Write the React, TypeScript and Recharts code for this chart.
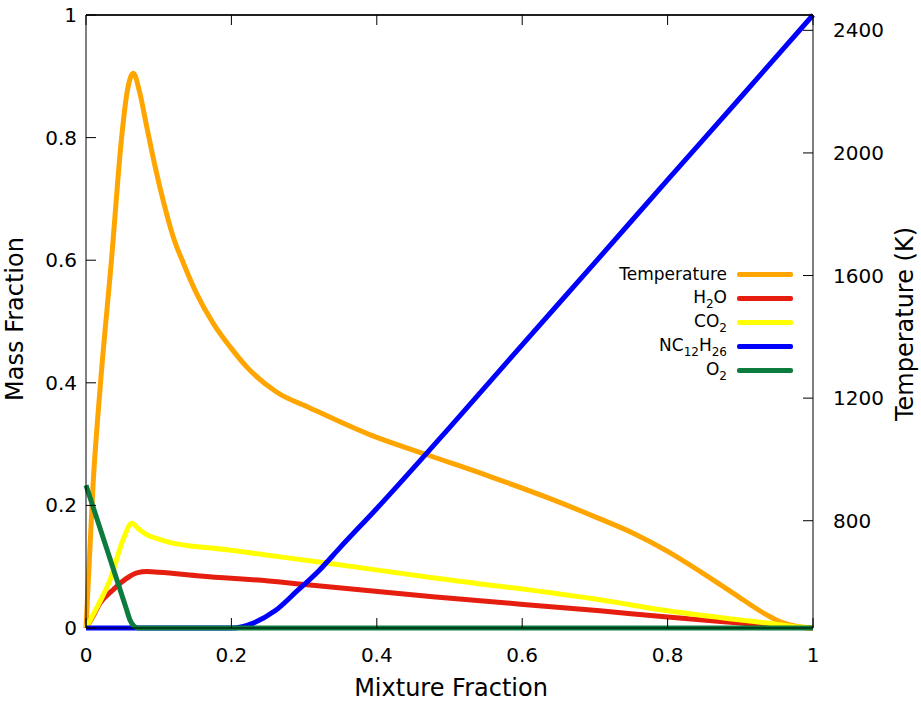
import React from "react";
import { LineChart, Line, XAxis, YAxis, CartesianGrid } from "recharts";

// mixture fraction samples and values for each series
const tempF = [0, 0.01, 0.02, 0.035, 0.049, 0.056, 0.061, 0.065, 0.074, 0.0835, 0.095, 0.106, 0.12, 0.134, 0.152, 0.175, 0.198, 0.221, 0.262, 0.308, 0.391, 0.473, 0.556, 0.634, 0.707, 0.752, 0.8, 0.845, 0.89, 0.937, 0.955, 0.98, 1];
const tempK = [450, 930, 1250, 1650, 2050, 2190, 2245, 2260, 2196, 2086, 1956, 1846, 1726, 1640, 1542, 1444, 1368, 1302, 1220, 1168, 1080, 1012, 944, 876, 806, 760, 700, 634, 564, 492, 470, 454, 450];

const h2oF = [0, 0.01, 0.019, 0.037, 0.05, 0.06, 0.07, 0.084, 0.1, 0.157, 0.267, 0.308, 0.477, 0.707, 0.8, 0.9, 0.95, 1];
const h2oY = [0, 0.02, 0.04, 0.062, 0.076, 0.084, 0.09, 0.092, 0.091, 0.085, 0.075, 0.07, 0.051, 0.028, 0.018, 0.008, 0.003, 0];

const co2F = [0, 0.02, 0.033, 0.051, 0.063, 0.072, 0.084, 0.1, 0.111, 0.157, 0.175, 0.267, 0.331, 0.477, 0.707, 0.8, 0.9, 0.937, 0.97, 1];
const co2Y = [0, 0.045, 0.078, 0.144, 0.171, 0.162, 0.152, 0.145, 0.141, 0.132, 0.13, 0.116, 0.106, 0.082, 0.046, 0.028, 0.013, 0.008, 0.003, 0];

const fuelF = [0, 0.2, 0.215, 0.23, 0.26, 0.29, 0.32, 0.35, 0.4, 0.5, 0.6, 0.7, 0.8, 0.9, 1];
const fuelY = [0, 0, 0.002, 0.008, 0.028, 0.06, 0.093, 0.132, 0.195, 0.327, 0.462, 0.596, 0.731, 0.865, 1];

const o2F = [0, 0.03, 0.055, 0.0605, 0.066, 0.072, 0.2, 0.6, 1];
const o2Y = [0.233, 0.124, 0.033, 0.013, 0.003, 0, 0, 0, 0];

const xTicks = [0, 0.2, 0.4, 0.6, 0.8, 1];
const massTicks = [0, 0.2, 0.4, 0.6, 0.8, 1];
const tempTicks = [800, 1200, 1600, 2000, 2400];

const zip = (fs: number[], vs: number[]) => fs.map((f, i) => ({ f, v: vs[i] }));

const FONT = "'DejaVu Sans', Verdana, sans-serif";
const W = 921;
const H = 702;
const LEFT_W = 86;
const RIGHT_W = 108;
const PLOT_TOP = 15; // chart top margin = top edge of the plot box
const PLOT_W = W - LEFT_W - RIGHT_W;

function Sub({ children }: { children: React.ReactNode }) {
    return <span style={{ fontSize: 12, position: "relative", top: 5 }}>{children}</span>;
}

const series = [
    { key: "temp", data: zip(tempF, tempK), axis: "T", color: "#FFA500", label: <>Temperature</> },
    { key: "h2o", data: zip(h2oF, h2oY), axis: "m", color: "#E51E10", label: <>H<Sub>2</Sub>O</> },
    { key: "co2", data: zip(co2F, co2Y), axis: "m", color: "#FFFF00", label: <>CO<Sub>2</Sub></> },
    { key: "fuel", data: zip(fuelF, fuelY), axis: "m", color: "#0000FF", label: <>NC<Sub>12</Sub>H<Sub>26</Sub></> },
    { key: "o2", data: zip(o2F, o2Y), axis: "m", color: "#0B7B3E", label: <>O<Sub>2</Sub></> },
];

const fmt = (v: number) => String(v);

// gnuplot style ticks: short marks pointing into the plot, mirrored on the top border
const BottomTick = (p: any) => (
    <g>
        <line x1={p.x} x2={p.x} y1={p.y} y2={p.y - 10} stroke="#000" />
        <line x1={p.x} x2={p.x} y1={PLOT_TOP} y2={PLOT_TOP + 10} stroke="#000" />
        <text x={p.x} y={p.y + 34} textAnchor="middle" fontFamily={FONT} fontSize={20} fill="#000">{fmt(p.payload.value)}</text>
    </g>
);
const LeftTick = (p: any) => (
    <g>
        <line x1={p.x} x2={p.x + 10} y1={p.y} y2={p.y} stroke="#000" />
        {/* the top value sits on the upper edge of the box: draw the border there */}
        {p.payload.value === massTicks[massTicks.length - 1] && (
            <line x1={p.x} x2={p.x + PLOT_W} y1={p.y} y2={p.y} stroke="#000" strokeWidth={1.3} />
        )}
        <text x={p.x - 9} y={p.y + 7} textAnchor="end" fontFamily={FONT} fontSize={20} fill="#000">{fmt(p.payload.value)}</text>
    </g>
);
const RightTick = (p: any) => (
    <g>
        <line x1={p.x} x2={p.x - 10} y1={p.y} y2={p.y} stroke="#000" />
        <text x={p.x + 20} y={p.y + 7} textAnchor="start" fontFamily={FONT} fontSize={20} fill="#000">{fmt(p.payload.value)}</text>
    </g>
);

const AxisTitle = ({ px, py, rot, text }: { px: number; py: number; rot?: number; text: string }) => (
    <text
        transform={`translate(${px},${py}) rotate(${rot || 0})`}
        textAnchor="middle"
        fontFamily={FONT}
        fontSize={24}
        fill="#000"
    >
        {text}
    </text>
);

export default function App() {
    return (
        <div style={{ position: "absolute", left: 0, top: 0, width: W, height: H, background: "#fff" }}>
            <LineChart width={W} height={H} margin={{ top: PLOT_TOP, right: 0, bottom: 0, left: 0 }}>
                <CartesianGrid xAxisId="b" yAxisId="m" vertical={false} horizontalValues={[1]} stroke="#000" strokeOpacity={1} />
                <XAxis
                    xAxisId="b"
                    dataKey="f"
                    type="number"
                    domain={[0, 1]}
                    ticks={xTicks}
                    interval={0}
                    height={74}
                    tickSize={0}
                    tickMargin={0}
                    tickLine={false}
                    axisLine={{ stroke: "#000" }}
                    tick={<BottomTick />}
                    label={<AxisTitle px={451} py={696} text="Mixture Fraction" />}
                />
                <YAxis
                    yAxisId="m"
                    type="number"
                    domain={[0, 1]}
                    ticks={massTicks}
                    interval={0}
                    width={LEFT_W}
                    tickSize={0}
                    tickMargin={0}
                    tickLine={false}
                    axisLine={{ stroke: "#000" }}
                    tick={<LeftTick />}
                    label={<AxisTitle px={23} py={319} rot={-90} text="Mass Fraction" />}
                />
                <YAxis
                    yAxisId="T"
                    orientation="right"
                    type="number"
                    domain={[450, 2450]}
                    ticks={tempTicks}
                    interval={0}
                    width={RIGHT_W}
                    tickSize={0}
                    tickMargin={0}
                    tickLine={false}
                    axisLine={{ stroke: "#000" }}
                    tick={<RightTick />}
                    label={<AxisTitle px={913} py={324} rot={-90} text="Temperature (K)" />}
                />
                {series.map((s) => (
                    <Line
                        key={s.key}
                        data={s.data}
                        dataKey="v"
                        xAxisId="b"
                        yAxisId={s.axis}
                        type="monotone"
                        stroke={s.color}
                        strokeWidth={5}
                        strokeLinejoin="round"
                        dot={false}
                        activeDot={false}
                        isAnimationActive={false}
                    />
                ))}
            </LineChart>
            <div style={{ position: "absolute", left: 560, top: 262, fontFamily: FONT, fontSize: 17, color: "#000" }}>
                {series.map((s) => (
                    <div key={s.key} style={{ display: "flex", alignItems: "center", height: 24 }}>
                        <span style={{ width: 167, textAlign: "right", lineHeight: "24px" }}>{s.label}</span>
                        <span style={{ width: 56, height: 5, marginLeft: 10, background: s.color, borderRadius: 2 }} />
                    </div>
                ))}
            </div>
        </div>
    );
}
